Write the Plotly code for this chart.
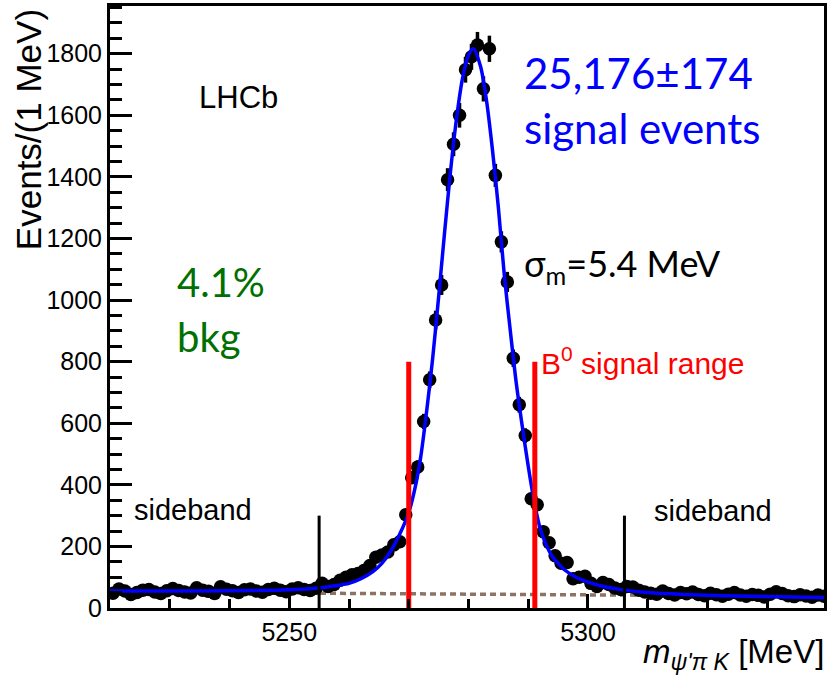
import numpy as np
import plotly.graph_objects as go

# ---------------- data ----------------
bin_start = 5220.5
events = [48, 62, 55, 44, 50, 58, 60, 52, 47, 56, 63, 57, 52, 49, 66, 58, 54, 47, 69, 61,
          56, 50, 59, 62, 55, 51, 60, 64, 58, 53, 62, 66, 60, 57, 64,
          80, 70, 76, 90, 100, 108, 112, 122, 138, 165, 172, 182, 205, 215,
          303, 423, 458, 606, 741, 935, 1049, 1391, 1506, 1600, 1748, 1790, 1828, 1686, 1816,
          1405, 1189, 1059, 811, 660, 560, 355, 335,
          248, 212, 170, 145, 148, 95, 100, 103, 80, 70, 83, 76, 65, 60, 70, 68, 58,
          52, 48, 45, 55, 47, 42, 50, 46, 52, 44, 40, 48, 43, 38, 45, 50, 42, 38, 44, 41,
          36, 45, 53, 47, 40, 37, 43, 39, 35, 42, 38]
mass = [bin_start + i for i in range(len(events))]
errors = [float(np.sqrt(v)) for v in events]

fit_mass = [5220, 5230, 5240, 5248, 5252, 5255, 5258, 5260, 5262, 5264, 5265.5, 5267, 5268.5,
            5270, 5271, 5272, 5273, 5274, 5275, 5276, 5277, 5278, 5279, 5280, 5280.8,
            5282, 5283, 5284, 5285, 5286, 5287, 5288, 5289, 5290, 5291, 5292, 5293, 5294,
            5295, 5296, 5298, 5300, 5303, 5306, 5310, 5316, 5325, 5340]
fit_total = [55, 55, 56, 58, 61, 65, 73, 80, 95, 118, 145, 185, 240,
             310, 385, 490, 640, 810, 1010, 1220, 1420, 1590, 1720, 1795, 1816,
             1760, 1650, 1490, 1300, 1080, 900, 730, 590, 460, 345, 258, 205, 168,
             145, 125, 100, 84, 68, 58, 50, 44, 39, 34]

bkg_mass = [5220, 5340]
bkg_level = [52, 38]

signal_range = [5270.0, 5291.1]
signal_range_height = 800
sideband_edges = [5255.0, 5306.1]
sideband_height = 300

x_range = [5220, 5339.5]
y_range = [0, 1955]

# ---------------- figure ----------------
W, H = 830, 678
ML, MR, MT, MB = 110, 3, 5, 70
PW, PH = W - ML - MR, H - MT - MB


def px(X):
    return (X - ML) / PW


def py(Y):
    return (H - MB - Y) / PH


fig = go.Figure()

fig.add_trace(go.Scatter(x=bkg_mass, y=bkg_level, mode="lines",
                         line=dict(color="rgb(140,115,100)", width=3.5, dash="6px,4px"),
                         hoverinfo="skip"))

fig.add_trace(go.Scatter(x=mass, y=events, mode="markers",
                         marker=dict(color="black", size=13.5),
                         error_y=dict(type="data", array=errors, color="black",
                                      thickness=3.5, width=0),
                         error_x=dict(type="constant", value=0.5, color="black",
                                      thickness=3.5, width=0)))

fig.add_trace(go.Scatter(x=fit_mass, y=fit_total, mode="lines",
                         line=dict(color="rgb(0,0,255)", width=3.5, shape="spline", smoothing=0.8)))

for xv in signal_range:
    fig.add_trace(go.Scatter(x=[xv, xv], y=[0, signal_range_height], mode="lines",
                             line=dict(color="rgb(255,0,0)", width=5)))
for xv in sideband_edges:
    fig.add_trace(go.Scatter(x=[xv, xv], y=[0, sideband_height], mode="lines",
                             line=dict(color="black", width=3)))

axis_font = dict(family="Liberation Sans, Arial, sans-serif", size=25, color="black")
fig.update_xaxes(range=x_range, showgrid=False, zeroline=False,
                 showline=True, linecolor="black", linewidth=3, mirror=True,
                 ticks="inside", ticklen=14, tickwidth=3, tickcolor="black",
                 tick0=5200, dtick=50, tickfont=axis_font,
                 minor=dict(ticks="inside", ticklen=9, tickwidth=3, tickcolor="black", dtick=10))
fig.update_yaxes(range=y_range, showgrid=False, zeroline=False,
                 showline=True, linecolor="black", linewidth=3, mirror=True,
                 ticks="inside", ticklen=22, tickwidth=3, tickcolor="black",
                 tick0=0, dtick=200, tickfont=axis_font,
                 minor=dict(ticks="inside", ticklen=12, tickwidth=3, tickcolor="black", dtick=50))

ann = []


def add(text, X, Y, size, color="black", family="Liberation Sans, Arial, sans-serif",
        xanchor="left", yanchor="middle", angle=0):
    ann.append(dict(text=text, x=px(X), y=py(Y), xref="paper", yref="paper",
                    xanchor=xanchor, yanchor=yanchor, showarrow=False, textangle=angle,
                    font=dict(family=family, size=size, color=color)))


calib = "Lato, 'Open Sans', sans-serif"
add("LHCb", 239, 97, 31, xanchor="center")
add("25,176±174", 524, 72, 42, color="rgb(0,0,255)", family=calib)
add("signal events", 524, 127, 42, color="rgb(0,0,255)", family=calib)
add("σ<sub>m</sub>=5.4 MeV", 524, 265, 36, family=calib)
add("4.1%", 175, 281, 40, color="rgb(0,112,0)", family=calib)
add("bkg", 175, 337, 40, color="rgb(0,112,0)", family=calib)
add("B<sup>0</sup> signal range", 541, 361, 30, color="rgb(255,0,0)")
add("sideband", 132, 510, 29)
add("sideband", 654, 511, 29)
add("Events/(1 MeV)", 28, 129, 35, xanchor="center", angle=-90)
add("<i>m</i><sub><i>ψ'π K</i></sub> [MeV]", 829, 654, 33, xanchor="right")

fig.update_layout(width=W, height=H, margin=dict(l=ML, r=MR, t=MT, b=MB),
                  paper_bgcolor="white", plot_bgcolor="white", showlegend=False,
                  annotations=ann)

fig.write_html("out.html")
